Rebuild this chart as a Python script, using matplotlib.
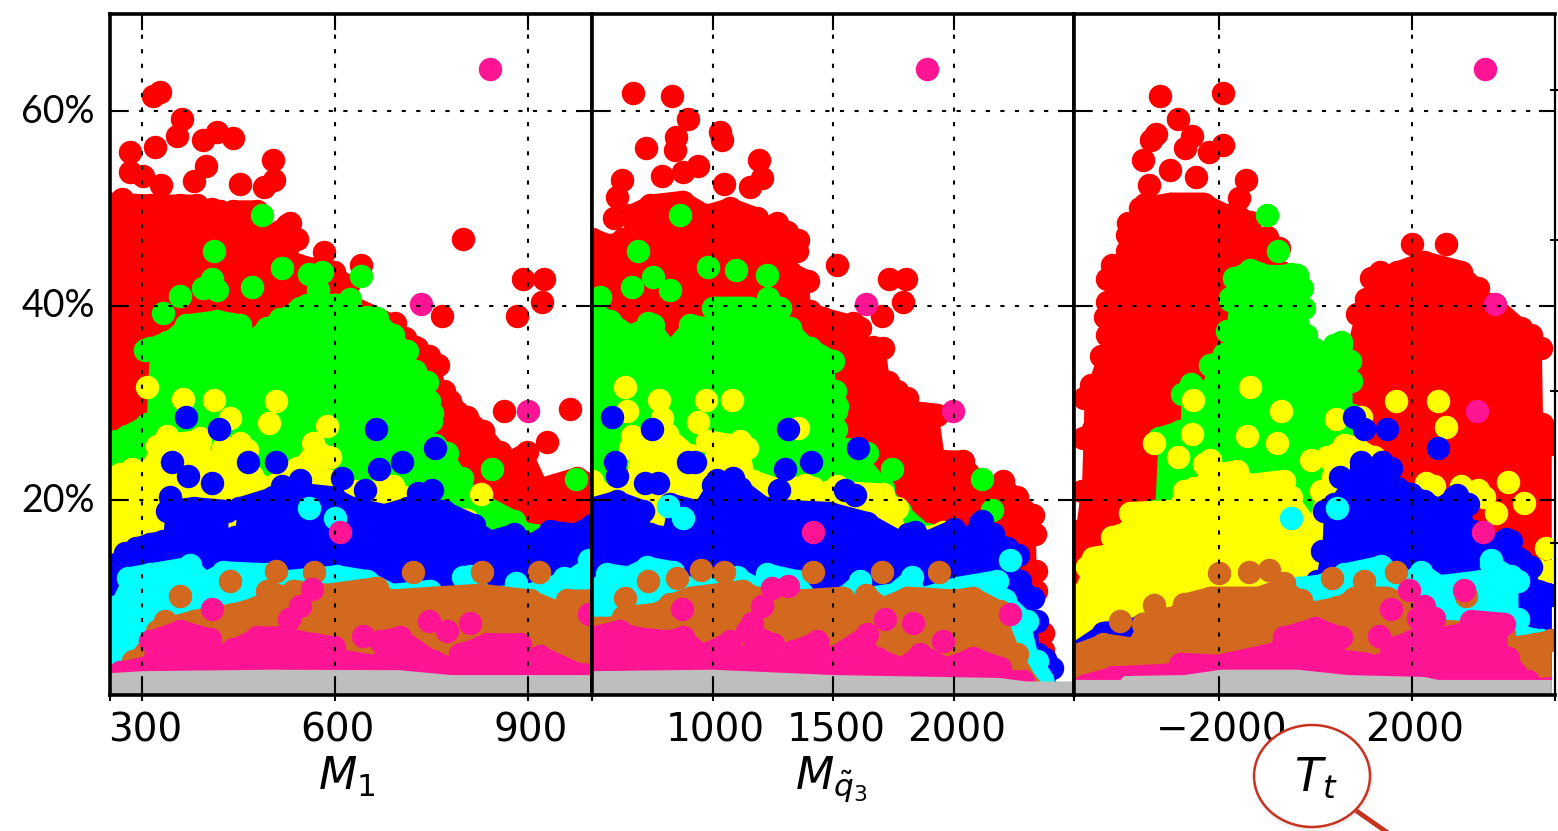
import matplotlib

matplotlib.use("Agg")
import matplotlib.pyplot as plt
from matplotlib.lines import Line2D
from matplotlib.patches import Ellipse
from matplotlib.transforms import ScaledTranslation

W, H = 1558, 831
plt.rcParams["mathtext.fontset"] = "dejavusans"

YTICKS = [20, 40, 60]
YTICK_LABELS = ["20%", "40%", "60%"]
COLORS = {
    "red": "#ff0000",
    "green": "#00ff00",
    "yellow": "#ffff00",
    "blue": "#0000ff",
    "cyan": "#00ffff",
    "brown": "#d2691e",
    "pink": "#ff1493",
    "gray": "#bebebe",
}
ORDER = ["red", "green", "yellow", "blue", "cyan", "brown", "pink", "gray"]
DOT_RADIUS = 1.18  # in percent, a dot is about 23 px wide

# ---- M1 panel: upper edge of each filled cloud, then the separate dots
M1_EDGE = {
    "red": [(250, 51.7), (312, 51.5), (359, 51.5), (385, 51.5), (395, 50.9), (421, 50.9), (429, 49.3), (442, 50.9),
            (478, 50.9), (494, 48.3), (525, 49.5), (541, 48.1), (543, 45.4), (566, 45), (598, 44.7), (621, 43.3),
            (623, 41.3), (691, 39.2), (709, 37.9), (727, 36.8), (761, 35.1), (769, 32.4), (779, 31.4), (805, 29.8),
            (831, 28.3), (857, 26.2), (862, 24.9), (899, 26.2), (925, 22.5), (976, 23.5), (1000, 22.8)],
    "green": [(250, 24.9), (260, 27.3), (307, 29), (312, 36.8), (338, 37.5), (369, 39.2), (416, 39.6), (452, 39.2),
              (458, 37.2), (494, 38.9), (515, 39.8), (541, 40.6), (546, 41), (598, 41.3), (623, 41.3), (629, 39.9),
              (665, 39.9), (691, 38.2), (712, 36.5), (725, 34.5), (743, 33.4), (746, 31.4), (750, 29.3), (755, 26.9),
              (774, 26.1), (797, 23.5), (821, 21.1), (878, 19.1), (901, 17.7), (1000, 17)],
    "yellow": [(250, 21.5), (265, 23.9), (302, 24.2), (323, 26.8), (390, 27.3), (413, 24.5), (426, 26.6), (463, 26.4),
               (471, 23.7), (494, 22.5), (541, 24.5), (567, 26.6), (592, 25.6), (594, 23.2), (629, 22.1), (691, 22.1),
               (727, 21.1), (753, 19.7), (805, 19.2), (821, 17.4), (836, 15.3), (1000, 14)],
    "blue": [(250, 13.2), (260, 14.6), (291, 16.3), (312, 16.7), (333, 17), (338, 20.1), (380, 20.4), (432, 20.1),
             (434, 17), (445, 17.4), (450, 20.4), (504, 21.5), (556, 21.8), (598, 21.5), (629, 20.4), (676, 19.7),
             (712, 20.4), (769, 20.1), (816, 18.7), (829, 17.4), (831, 16.3), (842, 17), (878, 17.7), (904, 16.7),
             (935, 18), (971, 17.7), (1000, 18.7)],
    "cyan": [(250, 10), (255, 10.2), (278, 13.2), (312, 13.6), (375, 14.3), (400, 12.9), (426, 13.8), (494, 13.6),
             (525, 12.9), (603, 13.4), (650, 12.9), (691, 11.5), (748, 11.9), (753, 11.2), (795, 10.9), (800, 13.3),
             (842, 11.2), (899, 11.5), (961, 12.9), (1000, 14.6)],
    "brown": [(250, 2), (255, 2.3), (286, 4.7), (323, 7.8), (380, 8.8), (442, 9.5), (478, 10.2), (494, 11.9), (525, 11.2),
              (535, 11.9), (587, 11.5), (665, 12.2), (686, 10.9), (753, 11.2), (826, 11.5), (904, 10.9), (945, 9.8),
              (961, 10.9), (1000, 10.9)],
    "pink": [(250, 2.2), (255, 2.3), (266, 3.5), (302, 4), (312, 6.7), (359, 7.8), (406, 6.9), (413, 5), (442, 5.9),
             (478, 7.1), (515, 7.1), (567, 6.4), (598, 6.1), (613, 4.7), (660, 4.2), (670, 6.7), (701, 7.1), (753, 4.7),
             (779, 4), (795, 5.4), (826, 6.1), (836, 6.4), (888, 6.4), (893, 4.4), (919, 5.2), (982, 3.3), (1000, 3.3)],
    "gray": [(250, 2.3), (300, 2.5), (500, 2.65), (700, 2.6), (780, 2.1), (1000, 2.1)],
}
M1_DOTS = {
    "red": [(317, 61.6), (328, 62), (362, 59.2), (355, 57.5), (320, 56.3), (281, 55.8), (395, 57), (416, 57.9),
            (441, 57.3), (281, 53.8), (302, 53.3), (330, 52.4), (380, 52.8), (399, 54.4), (452, 52.5), (504, 55),
            (505, 52.9), (489, 52.2), (530, 48.5), (408, 50), (268, 51), (799, 46.9), (583, 45.5), (641, 44.2),
            (893, 42.8), (926, 42.8), (922, 40.4), (766, 39), (884, 39), (694, 38.2), (725, 35.8), (746, 34.8),
            (863, 29.2), (966, 29.4), (930, 26)],
    "green": [(486, 49.3), (412, 45.6), (518, 43.9), (471, 41.9), (559, 43.3), (580, 43.5), (641, 43.1), (408, 42.8),
              (395, 41.8), (416, 41.6), (359, 41), (333, 39.3), (574, 41.6), (624, 40.7), (304, 35.5), (650, 38.9),
              (556, 40.1), (751, 29), (844, 23.2), (975, 22.2), (276, 26.6)],
    "yellow": [(307, 31.7), (363, 30.4), (412, 30.3), (509, 30.2), (498, 28), (437, 28.5), (587, 27.6), (338, 26.6),
               (452, 25.9), (390, 26.4), (566, 25.9), (260, 18.2), (284, 23.2), (828, 20.7), (691, 21.5), (271, 16)],
    "blue": [(368, 28.6), (420, 27.3), (664, 27.3), (755, 25.4), (704, 24), (668, 23.2), (465, 24), (509, 23.9),
             (346, 23.9), (372, 22.5), (408, 21.8), (343, 20.4), (546, 22.1), (611, 22.3), (647, 21.1), (730, 20.8),
             (751, 21.1), (517, 21.5), (356, 18), (411, 18.7), (273, 14.6)],
    "cyan": [(559, 19.2), (600, 18.2), (881, 11.5), (810, 12.2), (956, 12), (995, 13.9), (375, 13.4)],
    "brown": [(437, 11.7), (359, 10.2), (509, 12.7), (567, 12.6), (722, 12.6), (829, 12.6), (917, 12.6), (336, 7.6)],
    "pink": [(408, 8.8), (608, 16.8), (564, 10.9), (546, 9.1), (528, 7.8), (644, 6.1), (746, 7.6), (774, 6.6), (810, 7.4),
             (995, 8.3), (901, 29.2), (841, 64.3), (734, 40.2)],
}

# ---- stop mass panel
M3_EDGE = {
    "red": [(500, 48.1), (575, 47.4), (630, 48.1), (658, 50.5), (741, 51.5), (879, 51.9), (976, 50.5), (1073, 51.2),
            (1183, 50.2), (1197, 48.8), (1308, 48.8), (1322, 44.7), (1398, 43.7), (1404, 40.6), (1460, 39.9),
            (1612, 38.9), (1626, 36.8), (1709, 36.8), (1729, 33.4), (1764, 32.4), (1805, 31.7), (1819, 30.3),
            (1930, 30), (1958, 25.2), (2041, 25.2), (2110, 23.2), (2151, 22.1), (2206, 23.2), (2262, 21.5),
            (2331, 19.7), (2340, 17.7), (2342, 13.9), (2344, 11.9), (2346, 0)],
    "green": [(500, 40.6), (575, 39.6), (658, 38.2), (754, 39.2), (824, 36.8), (907, 39.2), (969, 38.9), (1003, 41),
              (1155, 41), (1183, 39.2), (1225, 41.6), (1280, 41), (1321, 38.9), (1404, 36.8), (1501, 35.5),
              (1508, 32.4), (1511, 30.4), (1513, 28.5), (1515, 26.6), (1584, 26.4), (1709, 22.5), (1778, 20.1),
              (1888, 17.7), (2000, 15), (2100, 0)],
    "yellow": [(500, 23.2), (575, 21.5), (644, 22.1), (658, 26.6), (810, 28), (907, 25.9), (962, 23.2), (976, 27.3),
               (1142, 26.6), (1169, 23.2), (1252, 22.5), (1266, 20.8), (1335, 22.5), (1418, 22.5), (1446, 20.4),
               (1487, 22.1), (1709, 21.8), (1764, 20.4), (1792, 17.7), (1806, 14.6), (1888, 17.4), (1958, 17.9),
               (2013, 17.7), (2200, 14), (2250, 0)],
    "blue": [(500, 20.4), (602, 21.1), (713, 20.1), (741, 17.7), (796, 17.4), (824, 20.8), (934, 20.1), (1003, 22.8),
             (1114, 22.5), (1225, 20.4), (1321, 20.1), (1487, 19.9), (1640, 18.9), (1778, 17), (1799, 15.3),
             (1812, 17.7), (1888, 17), (2000, 18.2), (2055, 17.4), (2110, 18.9), (2165, 17.7), (2220, 16.3),
             (2269, 15.6), (2276, 12.9), (2331, 11.2), (2345, 8.8), (2352, 5.4), (2407, 4), (2421, 1.6), (2442, 0)],
    "cyan": [(500, 11.9), (561, 13.6), (644, 13.3), (727, 14.3), (837, 13.8), (907, 12.2), (1100, 13.3), (1183, 12.2),
             (1225, 13.6), (1349, 12.9), (1432, 10.5), (1529, 11.2), (1612, 12.9), (1653, 11.2), (1736, 11.5),
             (1826, 13.3), (1875, 11.2), (2013, 12.2), (2179, 12.9), (2215, 10.9), (2304, 8.8), (2345, 4.7),
             (2414, 2), (2428, 0)],
    "brown": [(500, 8.1), (575, 8.1), (630, 9.2), (754, 9.5), (824, 10.5), (907, 11.2), (1128, 11.9), (1183, 11.2),
              (1349, 10.9), (1543, 11.2), (1598, 10.2), (1639, 11.5), (1709, 10.2), (1805, 11.2), (2006, 10.9),
              (2082, 11.2), (2193, 9.8), (2262, 5.4), (2331, 2.3), (2359, 1.4), (2365, 0)],
    "pink": [(500, 7.1), (616, 7.8), (672, 7.1), (810, 6.7), (879, 7.1), (962, 5.4), (1073, 6.7), (1121, 5), (1142, 7.8),
             (1252, 6.4), (1266, 4), (1335, 5.7), (1432, 6.7), (1487, 5), (1640, 7.4), (1681, 5), (1778, 4), (1861, 5.4),
             (1971, 4), (2082, 5), (2193, 4), (2207, 2.6), (2290, 2.6), (2317, 1.6), (2320, 0)],
    "gray": [(500, 2.5), (1000, 2.65), (1500, 2.1), (2190, 1.8), (2300, 1.45), (2500, 1.45)],
}
M3_DOTS = {
    "red": [(669, 61.9), (833, 61.6), (897, 59.2), (848, 57.4), (844, 56), (724, 56.2), (1031, 57.9), (1038, 57),
            (1193, 55), (1204, 53.1), (1156, 52.2), (1049, 52.5), (941, 54.4), (879, 53.8), (789, 53.3), (626, 52.9),
            (602, 51.2), (591, 49), (1356, 46.8), (1352, 45.6), (1518, 44.2), (1732, 42.8), (1801, 42.8), (1792, 40.4),
            (1702, 39), (1584, 38.2), (1667, 35.8), (1266, 48.5), (1377, 42.7), (2372, 6.4), (2372, 4.6)],
    "green": [(865, 49.3), (692, 45.6), (1225, 43.2), (1096, 43.7), (983, 44), (755, 43), (665, 41.9), (824, 41.6),
              (533, 40.9), (1232, 40.8), (734, 38.2), (1743, 23.2), (2117, 22.2), (2158, 19), (1515, 29.7), (1640, 24.9)],
    "yellow": [(637, 31.7), (779, 30.3), (972, 30.3), (1082, 30.3), (644, 29.2), (941, 28.1), (1356, 27.4), (1384, 21.6),
               (665, 26.6), (789, 28.5), (1515, 21.5), (1114, 26.1)],
    "blue": [(582, 28.6), (748, 27.3), (1312, 27.3), (1602, 25.4), (1409, 24), (1301, 23.2), (900, 24), (927, 23.9),
             (595, 23.9), (602, 22.5), (720, 21.8), (775, 21.8), (1017, 22.1), (1086, 22.3), (1277, 21.1), (1550, 21.1),
             (1591, 20.6), (2117, 17.9), (1840, 16.8), (2380, 3.7)],
    "cyan": [(817, 19.4), (879, 18.2), (2234, 13.9)],
    "brown": [(734, 11.7), (637, 10), (854, 12), (952, 12.8), (1049, 12.6), (1418, 12.6), (1702, 12.6), (1940, 12.6)],
    "pink": [(1312, 11.2), (1245, 11), (1204, 9.1), (1162, 7.4), (875, 8.8), (1418, 16.8), (1999, 29.2), (1716, 7.8),
             (1833, 7.4), (1958, 5.6), (2234, 8.3), (1889, 64.3), (1637, 40.2)],
}

# ---- trilinear coupling panel
TT_EDGE = {
    "red": [(-5000, 16), (-4945, 18), (-4841, 22.1), (-4806, 27.6), (-4790, 31.7), (-4650, 33), (-4450, 36), (-4350, 40),
            (-4200, 44), (-3907, 46.8), (-3900, 48.5), (-3699, 49.8), (-3630, 51.2), (-3007, 51.7), (-2315, 51.7),
            (-1831, 50.5), (-1761, 49.2), (-1346, 49.8), (-1277, 48.1), (-758, 47.1), (-723, 44.7), (-516, 37.9),
            (-239, 34.5), (384, 32.7), (591, 32.7), (695, 36.8), (868, 40.3), (1041, 41.9), (1145, 44), (1560, 43.7),
            (1698, 44.7), (2252, 45.7), (3013, 44.7), (3359, 43), (3400, 41.6), (3706, 41.3), (4259, 38.9),
            (4674, 36.8), (4700, 29), (4847, 28.3), (4882, 27), (4885, 0)],
    "green": [(-3319, 20.1), (-3249, 27.6), (-2799, 28.3), (-2765, 32.1), (-2315, 32.4), (-2177, 35.1), (-1900, 36.2),
              (-1831, 38.6), (-1761, 42), (-1692, 44), (-1346, 44.9), (-931, 44.2), (-377, 44.4), (-274, 43), (-239, 41),
              (-204, 38.2), (-190, 36.8), (-32, 36.7), (245, 35.5), (384, 37.2), (522, 37.2), (716, 35.5), (744, 33.5),
              (760, 30), (799, 29.8), (805, 0)],
    "yellow": [(-5000, 11.5), (-4945, 11.5), (-4737, 14.3), (-4599, 15.3), (-4253, 15.6), (-4218, 17.4), (-3872, 18),
               (-3837, 19.9), (-3007, 20.1), (-2730, 22.1), (-2453, 22.5), (-2315, 24.9), (-2038, 23.9), (-1623, 24.2),
               (-1346, 22.8), (-654, 23.2), (-516, 21.5), (-101, 18.7), (107, 22.1), (245, 25.6), (591, 26.9),
               (868, 26.6), (1214, 25.6), (1283, 22.5), (1629, 22.5), (1640, 0)],
    "blue": [(-5000, 5.6), (-4391, 7.6), (-3900, 7.8), (-3561, 8.5), (-3500, 0), (30, 0), (38, 12.9), (141, 16),
             (176, 20.1), (384, 20.8), (937, 24.5), (1560, 24.5), (1698, 22.5), (1975, 21.8), (2252, 21.1), (2529, 20.4),
             (2875, 21.5), (3152, 20.8), (3256, 18), (3636, 16.7), (4051, 17), (4190, 15.3), (4467, 14.3), (4605, 11.9),
             (4882, 11.5), (4885, 0)],
    "cyan": [(-380, 0), (-377, 12.2), (38, 12.4), (591, 13.6), (1353, 14.4), (1905, 12.9), (2183, 13.8), (2598, 12.4),
             (3428, 12.9), (3636, 14.6), (4190, 12.9), (4195, 9), (4328, 7.1), (4674, 6.8), (4690, 0)],
    "brown": [(-5000, 5.3), (-4391, 6.4), (-3837, 6), (-3561, 8.5), (-3007, 9.1), (-2730, 10.5), (-2177, 11.2),
              (-1208, 11.2), (-654, 12.2), (-308, 10.9), (-32, 9.7), (453, 10.2), (799, 11.2), (1491, 11.2), (1837, 10.5),
              (2045, 8.5), (2633, 7.8), (3913, 7.4), (3983, 6), (4536, 6.4), (4882, 6.8), (4885, 0)],
    "pink": [(-5000, 1.6), (-4875, 2.1), (-4183, 3), (-3007, 3.3), (-2799, 4.4), (-2038, 4.2), (-931, 5.4), (-654, 7.1),
             (-3, 8.1), (522, 7.1), (591, 4.7), (1076, 4.4), (1214, 3.3), (1353, 4.4), (1560, 6), (1975, 6.7), (2115, 9.1),
             (2460, 9.1), (2598, 7.1), (3013, 7.4), (3221, 8.8), (3913, 8.5), (3983, 5), (4397, 2.6), (4536, 1.8),
             (4882, 1.9), (4885, 0)],
    "gray": [(-5000, 1.6), (-4045, 1.6), (-3976, 2), (-2730, 2.1), (-1969, 2.65), (-377, 2.65), (660, 2.1), (2252, 1.9),
             (2529, 1.6), (4882, 1.6), (4885, 0)],
}
TT_DOTS = {
    "red": [(-3228, 61.6), (-1921, 61.9), (-2848, 59.2), (-3298, 57.7), (-3401, 57), (-2557, 57.5), (-1921, 56.5),
            (-2197, 55.8), (-2696, 56.2), (-3561, 55), (-3007, 54), (-2467, 53.2), (-3457, 52.4), (-1436, 52.9),
            (-1588, 51.1), (-3526, 50.5), (-3872, 48.5), (-1554, 49), (-4322, 42.8), (-4218, 44.2), (-4322, 40.4),
            (-4322, 37), (1989, 46.4), (2702, 46.4), (1339, 43.5), (-4600, 31.4), (4467, 37), (4328, 34.1), (-1000, 47.1),
            (-4564, 31.4), (-4600, 27.3)],
    "green": [(-1000, 49.3), (-779, 45.6), (-2571, 32), (-1381, 43.3), (-516, 43.3), (-447, 41.3), (-1761, 40.6),
              (522, 36.3), (-32, 35.6), (-377, 38.2), (-1554, 43)],
    "yellow": [(-1346, 31.7), (-2536, 30.3), (-723, 29.2), (-3339, 25.9), (-2557, 26.8), (-2848, 24.5), (-2523, 21.3),
               (-1415, 26.6), (-793, 25.9), (418, 28.4), (1664, 30.2), (2529, 30.2), (2702, 27.5), (2287, 21.8),
               (2460, 21.5), (3013, 21.5), (3359, 21.1), (3996, 21.9), (4328, 19.7), (3740, 18.7), (4778, 15.1),
               (4847, 12.7), (-101, 24.2), (-2177, 24.2), (937, 28.6), (3497, 20.4), (4605, 12.9)],
    "blue": [(799, 28.6), (1006, 27.3), (1491, 27.3), (2529, 25.4), (937, 24), (1387, 24), (508, 22.4), (2923, 20.6),
             (3947, 16), (4259, 13.9)],
    "cyan": [(-516, 18.2), (453, 19.2), (3636, 13.9), (4051, 12.2)],
    "brown": [(-4045, 7.6), (-3339, 9.3), (-1990, 12.5), (-1381, 12.6), (-952, 12.8), (349, 12), (1006, 11.7), (1664, 12.6),
              (3117, 10.2), (-654, 11.5)],
    "pink": [(3338, 29.2), (3463, 16.8), (3083, 10.8), (1941, 10.8), (1560, 8.8), (1318, 6.1), (2252, 9.1), (3518, 64.3),
             (3726, 40.2)],
}

PANELS = [
    {"edge": M1_EDGE, "dots": M1_DOTS, "xlim": (250, 1000), "xticks": [300, 600, 900], "px": (110, 592)},
    {"edge": M3_EDGE, "dots": M3_DOTS, "xlim": (500, 2500), "xticks": [1000, 1500, 2000], "px": (592, 1074)},
    {"edge": TT_EDGE, "dots": TT_DOTS, "xlim": (-5000, 4960), "xticks": [-2000, 2000], "px": (1074, 1555)},
]
RIGHT_MARKS = [15.6, 31.2, 46.8, 62.2]


def draw_panel(fig, panel, first):
    left, right = panel["px"]
    ax = fig.add_axes([left / W, 1 - 695 / H, (right - left) / W, 681 / H])
    for name in ORDER:
        xs = [p[0] for p in panel["edge"][name]]
        ys = [p[1] for p in panel["edge"][name]]
        ax.fill_between(xs, 0, ys, color=COLORS[name], linewidth=0, zorder=2)
        if name != "gray":
            # the cloud edge is made of dots, this gives it the same bumpy look
            rim = [(x, y - DOT_RADIUS) for x, y in panel["edge"][name] if y > 2.5]
            ax.scatter([p[0] for p in rim], [p[1] for p in rim], s=285, color=COLORS[name],
                       linewidths=0, zorder=2)
        dots = panel["dots"].get(name, [])
        if dots:
            ax.scatter([p[0] for p in dots], [p[1] for p in dots], s=285, color=COLORS[name],
                       linewidths=0, zorder=2)

    ax.set_xlim(panel["xlim"])
    ax.set_ylim(0, 70)
    ax.set_xticks(panel["xticks"])
    ax.set_yticks(YTICKS)
    ax.set_axisbelow(False)
    ax.grid(True, color="black", linewidth=1.5, linestyle=(0, (2, 5)))
    ax.tick_params(axis="both", which="major", direction="in", length=11.5, width=1.5,
                   top=True, right=True, labelsize=28)
    ax.tick_params(axis="x", which="major", pad=12)

    # short stubs below the frame
    ax.xaxis.remove_overlapping_locs = False
    ax.set_xticks(list(panel["xlim"]) + panel["xticks"], minor=True)
    ax.tick_params(axis="x", which="minor", direction="out", length=4.5, width=1.5)

    nudge_x = ScaledTranslation(3 / 100, 0, fig.dpi_scale_trans)
    for label in ax.get_xticklabels():
        label.set_transform(label.get_transform() + nudge_x)

    if first:
        ax.set_yticklabels(YTICK_LABELS, family="Lato", fontsize=27)
        ax.tick_params(axis="y", pad=11)
        nudge_y = ScaledTranslation(0, 3 / 100, fig.dpi_scale_trans)
        for label in ax.get_yticklabels():
            label.set_transform(label.get_transform() + nudge_y)
    else:
        ax.tick_params(axis="y", labelleft=False)

    for side, spine in ax.spines.items():
        spine.set_linewidth(2.6)
        spine.set_zorder(6)
    return ax


def main():
    fig = plt.figure(figsize=(W / 100, H / 100), dpi=100)
    axes = [draw_panel(fig, panel, i == 0) for i, panel in enumerate(PANELS)]

    axes[2].spines["right"].set_linewidth(1.6)
    axes[2].yaxis.remove_overlapping_locs = False
    axes[2].set_yticks(RIGHT_MARKS, minor=True)
    axes[2].tick_params(axis="y", which="minor", left=False, right=True, direction="inout", length=7, width=1.5)

    fig.text(347 / W, 1 - 777 / H, r"$M_1$", fontsize=32, ha="center", va="center")
    fig.text(831 / W, 1 - 779 / H, r"$M_{\tilde{q}_3}$", fontsize=32, ha="center", va="center")

    # hand drawn lens around the last label
    ratio_x, ratio_y = 1 / W, 1 / H
    shadow = Ellipse((1313 * ratio_x, 1 - 778 * ratio_y), 120 * ratio_x, 106 * ratio_y, transform=fig.transFigure,
                     facecolor="#f0f0f0", edgecolor="none", zorder=9)
    lens = Ellipse((1312 * ratio_x, 1 - 776 * ratio_y), 116 * ratio_x, 102 * ratio_y, transform=fig.transFigure,
                   facecolor="white", edgecolor="#c8321e", linewidth=1.8, zorder=10)
    fig.add_artist(shadow)
    fig.add_artist(lens)
    fig.add_artist(Line2D([1358 * ratio_x, 1388 * ratio_x], [1 - 812 * ratio_y, 1 - 833 * ratio_y],
                          transform=fig.transFigure, color="#c8321e", linewidth=3.4, zorder=10))
    fig.text(1316 / W, 1 - 779 / H, r"$T_t$", fontsize=33, ha="center", va="center", zorder=11)

    fig.savefig("out.png", dpi=100)


if __name__ == "__main__":
    main()
